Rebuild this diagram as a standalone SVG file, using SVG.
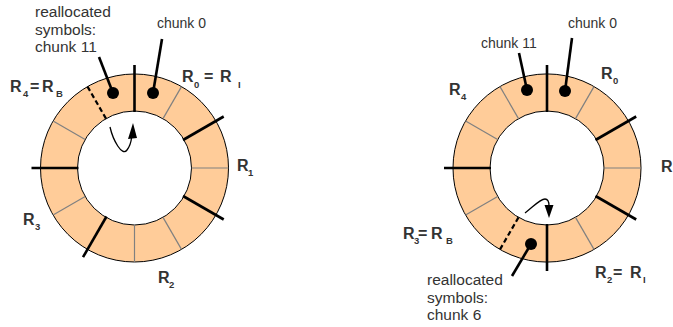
<svg xmlns="http://www.w3.org/2000/svg" width="673" height="327" viewBox="0 0 673 327">
<style>
.ring{fill:#ffcc99;fill-rule:evenodd;stroke:#000;stroke-width:1}
.thin{stroke:#808080;stroke-width:1.2}
.thick{stroke:#000;stroke-width:2.6}
.dash{stroke:#000;stroke-width:2.2;stroke-dasharray:5,3}
.lead{stroke:#000;stroke-width:2.6}
.dot{fill:#000}
.arr{fill:none;stroke:#000;stroke-width:1.3}
.lbl{font-family:"Liberation Sans",Arial,sans-serif;font-size:15.5px;fill:#333}
.ck{font-family:"Liberation Sans",Arial,sans-serif;font-size:14px;fill:#333}
.R{font-family:"Liberation Sans",Arial,sans-serif;font-size:16px;font-weight:bold;fill:#333}
.s{font-size:9.5px}
</style>
<g id="ring-left">
<path class="ring" d="M40.5,168a94,94 0 1,0 188,0a94,94 0 1,0 -188,0ZM77.5,168a57,57 0 1,0 114,0a57,57 0 1,0 -114,0Z"/>
<g transform="translate(134.5,168)">
<line class="thin" x1="57" y1="0" x2="94" y2="0" transform="rotate(300)"/>
<line class="thin" x1="57" y1="0" x2="94" y2="0" transform="rotate(0)"/>
<line class="thin" x1="57" y1="0" x2="94" y2="0" transform="rotate(60)"/>
<line class="thin" x1="57" y1="0" x2="94" y2="0" transform="rotate(90)"/>
<line class="thin" x1="57" y1="0" x2="94" y2="0" transform="rotate(150)"/>
<line class="thin" x1="57" y1="0" x2="94" y2="0" transform="rotate(210)"/>
<line class="dash" x1="57" y1="0" x2="94" y2="0" transform="rotate(240)"/>
<line class="thick" x1="56" y1="0" x2="103" y2="0" transform="rotate(270)"/>
<line class="thick" x1="56" y1="0" x2="103" y2="0" transform="rotate(330)"/>
<line class="thick" x1="56" y1="0" x2="103" y2="0" transform="rotate(30)"/>
<line class="thick" x1="56" y1="0" x2="103" y2="0" transform="rotate(120)"/>
<line class="thick" x1="56" y1="0" x2="103" y2="0" transform="rotate(180)"/>
</g>
</g>
<g id="ring-right">
<path class="ring" d="M453,168a94,94 0 1,0 188,0a94,94 0 1,0 -188,0ZM490,168a57,57 0 1,0 114,0a57,57 0 1,0 -114,0Z"/>
<g transform="translate(547,168)">
<line class="thin" x1="57" y1="0" x2="94" y2="0" transform="rotate(300)"/>
<line class="thin" x1="57" y1="0" x2="94" y2="0" transform="rotate(0)"/>
<line class="thin" x1="57" y1="0" x2="94" y2="0" transform="rotate(60)"/>
<line class="thin" x1="57" y1="0" x2="94" y2="0" transform="rotate(150)"/>
<line class="thin" x1="57" y1="0" x2="94" y2="0" transform="rotate(210)"/>
<line class="thin" x1="57" y1="0" x2="94" y2="0" transform="rotate(240)"/>
<line class="dash" x1="57" y1="0" x2="94" y2="0" transform="rotate(120)"/>
<line class="thick" x1="56" y1="0" x2="103" y2="0" transform="rotate(270)"/>
<line class="thick" x1="56" y1="0" x2="103" y2="0" transform="rotate(330)"/>
<line class="thick" x1="56" y1="0" x2="103" y2="0" transform="rotate(30)"/>
<line class="thick" x1="56" y1="0" x2="103" y2="0" transform="rotate(90)"/>
<line class="thick" x1="56" y1="0" x2="103" y2="0" transform="rotate(180)"/>
</g>
</g>
<g id="connectors">
<line class="lead" x1="153" y1="93" x2="162" y2="39"/>
<circle class="dot" cx="153" cy="93" r="6"/>
<line class="lead" x1="113" y1="93" x2="99" y2="57"/>
<circle class="dot" cx="113" cy="93" r="6"/>
<path class="arr" d="M110,127C113,140 122,157 127,150C130,146 131,143 131.5,138"/>
<polygon points="133,123 128,139 137,138"/>
<line class="lead" x1="565" y1="91" x2="572" y2="38"/>
<circle class="dot" cx="565" cy="91" r="6"/>
<line class="lead" x1="527" y1="90" x2="519" y2="53"/>
<circle class="dot" cx="527" cy="90" r="6"/>
<line class="lead" x1="531" y1="244" x2="512" y2="276"/>
<circle class="dot" cx="531" cy="244" r="6"/>
<path class="arr" d="M525,213C533,207 540,199 545,199C548,199 549,202 549,206"/>
<polygon points="544.5,205 553.5,205 549,218"/>
</g>
<g id="labels-left">
<text class="lbl" x="35" y="17">reallocated</text>
<text class="lbl" x="35" y="34.5">symbols:</text>
<text class="lbl" x="35" y="52">chunk 11</text>
<text class="ck" x="157" y="28">chunk 0</text>
<text class="R"><tspan x="10" y="92">R</tspan><tspan class="s" x="23" y="97">4</tspan><tspan x="30" y="92">=</tspan><tspan x="42" y="92">R</tspan><tspan class="s" x="56" y="97">B</tspan></text>
<text class="R"><tspan x="182" y="82">R</tspan><tspan class="s" x="194" y="88">0</tspan><tspan x="204" y="82">=</tspan><tspan x="220" y="82">R</tspan><tspan class="s" x="238" y="88">I</tspan></text>
<text class="R"><tspan x="237" y="171">R</tspan><tspan class="s" x="248" y="176">1</tspan></text>
<text class="R"><tspan x="158" y="283">R</tspan><tspan class="s" x="169" y="288">2</tspan></text>
<text class="R"><tspan x="23" y="225">R</tspan><tspan class="s" x="35" y="230">3</tspan></text>
</g>
<g id="labels-right">
<text class="ck" x="481" y="48">chunk 11</text>
<text class="ck" x="568" y="28">chunk 0</text>
<text class="R"><tspan x="601" y="79">R</tspan><tspan class="s" x="613" y="84">0</tspan></text>
<text class="R"><tspan x="449" y="95">R</tspan><tspan class="s" x="461" y="100">4</tspan></text>
<text class="R" x="661" y="172">R</text>
<text class="R"><tspan x="403" y="239">R</tspan><tspan class="s" x="414" y="244">3</tspan><tspan x="418" y="239">=</tspan><tspan x="431" y="239">R</tspan><tspan class="s" x="446" y="244">B</tspan></text>
<text class="R"><tspan x="595" y="278">R</tspan><tspan class="s" x="607" y="283">2</tspan><tspan x="613" y="278">=</tspan><tspan x="630" y="278">R</tspan><tspan class="s" x="643" y="283">I</tspan></text>
<text class="lbl" x="427" y="285">reallocated</text>
<text class="lbl" x="427" y="302.5">symbols:</text>
<text class="lbl" x="427" y="320">chunk 6</text>
</g>
</svg>
